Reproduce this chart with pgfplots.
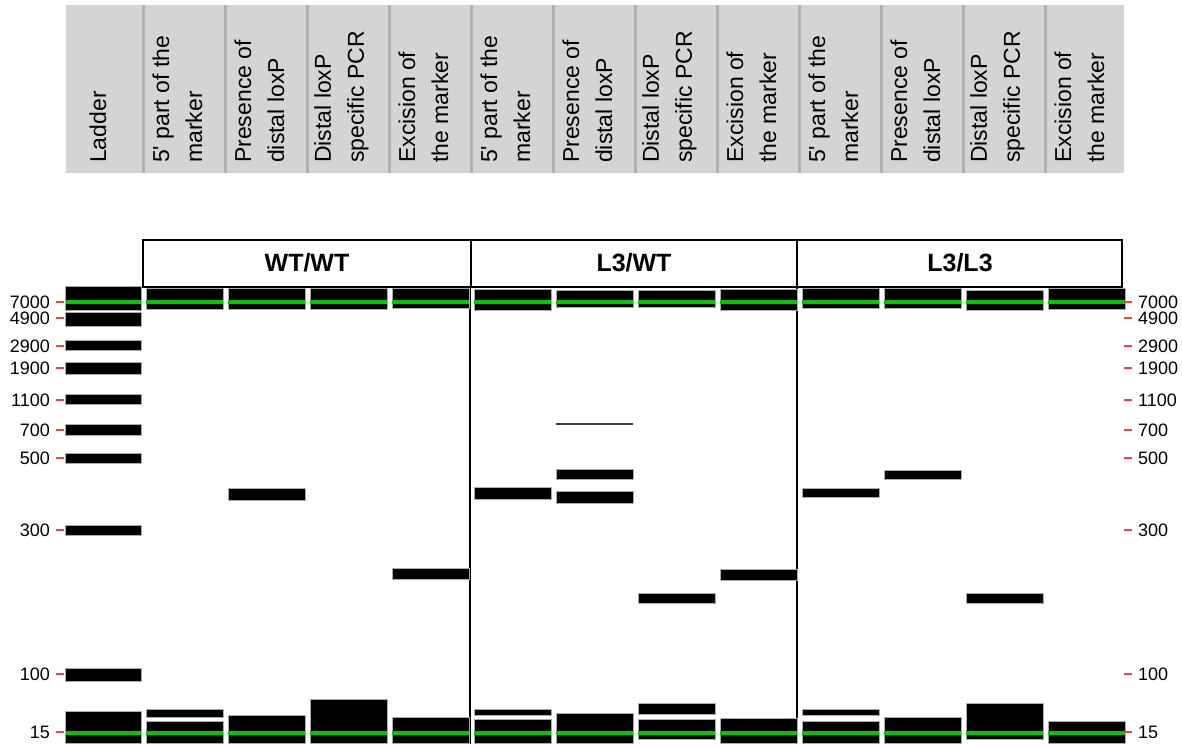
\documentclass[border=0pt]{standalone}
\usepackage{fontspec}
\setmainfont{Liberation Sans}
\usepackage{pgfplots}
\pgfplotsset{compat=1.18}

\definecolor{hdr}{HTML}{D4D4D4}
\definecolor{hdrsep}{HTML}{B0B0B0}
\definecolor{gelgreen}{HTML}{00C800}
\definecolor{tickred}{HTML}{FF3C3C}

% one band: lane (0 = ladder), top and bottom in pixel rows
\newcommand{\band}[3]{%
  \pgfmathsetmacro{\xl}{#1==0 ? 66 : 64+82*#1}%
  \pgfmathsetmacro{\xr}{64+82*#1+77}%
  \edef\doband{\noexpand\addplot[bandst] coordinates {(\xl,-#2) (\xr,-#2) (\xr,-#3) (\xl,-#3)} -- cycle;}%
  \doband}
% green reference line across a lane
\newcommand{\gline}[2]{%
  \pgfmathsetmacro{\xl}{#1==0 ? 66 : 64+82*#1}%
  \pgfmathsetmacro{\xr}{64+82*#1+77}%
  \edef\dogl{\noexpand\addplot[gelgreen, line width=3.5pt] coordinates {(\xl,-#2) (\xr,-#2)};}%
  \dogl}

\pgfplotsset{
  bandst/.style={fill=black, draw=gray!65, line width=1pt},
  gelaxis/.style={
    x=1pt, y=1pt,
    xmin=64, xmax=1124, ymin=-744, ymax=-286,
    axis line style={draw=none},
    xtick=\empty,
    ytick={-302,-318,-346,-368,-400,-430,-458,-530,-674,-732},
    yticklabels={7000,4900,2900,1900,1100,700,500,300,100,15},
    tick align=outside,
    major tick length=8pt,
    tick style={tickred, line width=2pt},
    yticklabel style={font=\fontsize{18}{18}\selectfont, inner sep=0pt},
    /pgf/number format/assume math mode=true,
    clip=false,
  },
}
\tikzset{
  hdrtxt/.style={rotate=90, anchor=west, align=left, inner sep=0pt,
    font=\fontsize{23}{33}\selectfont},
  grptxt/.style={font=\bfseries\fontsize{25}{25}\selectfont},
}

\begin{document}
\begin{tikzpicture}
\begin{axis}[gelaxis, ytick pos=left, yticklabel pos=left,
    yticklabel style={xshift=-6pt}]
  % page frame
  \path (0,0) rectangle (1182,-744);

  % column header
  \fill[hdr] (66,-5) rectangle (1124,-173);
  \draw[hdrsep, line width=3pt]
    (143.5,-5) -- (143.5,-173) (225.5,-5) -- (225.5,-173)
    (307.5,-5) -- (307.5,-173) (389.5,-5) -- (389.5,-173)
    (471.5,-5) -- (471.5,-173) (553.5,-5) -- (553.5,-173)
    (635.5,-5) -- (635.5,-173) (717.5,-5) -- (717.5,-173)
    (799.5,-5) -- (799.5,-173) (881.5,-5) -- (881.5,-173)
    (963.5,-5) -- (963.5,-173) (1045.5,-5) -- (1045.5,-173);
  \node[hdrtxt] at (98,-163) {Ladder};
  \node[hdrtxt] at (177.5,-163) {5\textquotesingle{} part of the\\marker};
  \node[hdrtxt] at (259.5,-163) {Presence of\\distal loxP};
  \node[hdrtxt] at (341.5,-163) {Distal loxP\\specific PCR};
  \node[hdrtxt] at (423.5,-163) {Excision of\\the marker};
  \node[hdrtxt] at (505.5,-163) {5\textquotesingle{} part of the\\marker};
  \node[hdrtxt] at (587.5,-163) {Presence of\\distal loxP};
  \node[hdrtxt] at (669.5,-163) {Distal loxP\\specific PCR};
  \node[hdrtxt] at (751.5,-163) {Excision of\\the marker};
  \node[hdrtxt] at (833.5,-163) {5\textquotesingle{} part of the\\marker};
  \node[hdrtxt] at (915.5,-163) {Presence of\\distal loxP};
  \node[hdrtxt] at (997.5,-163) {Distal loxP\\specific PCR};
  \node[hdrtxt] at (1079.5,-163) {Excision of\\the marker};

  % genotype groups
  \draw[line width=2pt] (143,-240) rectangle (471,-287);
  \draw[line width=2pt] (471,-240) rectangle (797,-287);
  \draw[line width=2pt] (797,-240) rectangle (1122,-287);
  \node[grptxt] at (307,-263) {WT/WT};
  \node[grptxt] at (634,-263) {L3/WT};
  \node[grptxt] at (960,-263) {L3/L3};
  \draw[line width=2pt] (470,-287) -- (470,-744);
  \draw[line width=2pt] (797,-287) -- (797,-744);

  % ladder
  \band{0}{287}{311} \band{0}{313}{327} \band{0}{341}{351}
  \band{0}{363}{375} \band{0}{395}{405} \band{0}{425}{435}
  \band{0}{453}{463} \band{0}{525}{535} \band{0}{668}{681}
  \band{0}{711}{743}
  % WT/WT
  \band{1}{289}{310} \band{1}{709}{717} \band{1}{721}{743}
  \band{2}{289}{310} \band{2}{488}{500} \band{2}{715}{743}
  \band{3}{289}{310} \band{3}{699}{743}
  \band{4}{289}{309} \band{4}{568}{579} \band{4}{717}{743}
  % L3/WT
  \band{5}{290}{311} \band{5}{487}{499} \band{5}{709}{715} \band{5}{719}{743}
  \band{6}{291}{308} \band{6}{469}{479} \band{6}{491}{503} \band{6}{713}{743}
  \addplot[black!75, line width=1.5pt] coordinates {(556,-424) (633,-424)};
  \band{7}{291}{308} \band{7}{593}{603} \band{7}{703}{714} \band{7}{719}{739}
  \band{8}{290}{311} \band{8}{569}{580} \band{8}{718}{743}
  % L3/L3
  \band{9}{289}{309} \band{9}{488}{497} \band{9}{709}{715} \band{9}{721}{743}
  \band{10}{289}{309} \band{10}{470}{479} \band{10}{717}{743}
  \band{11}{291}{311} \band{11}{593}{603} \band{11}{703}{739}
  \band{12}{289}{310} \band{12}{721}{743}

  % reference lines
  \gline{0}{302} \gline{1}{302} \gline{2}{302} \gline{3}{302} \gline{4}{302}
  \gline{5}{302} \gline{6}{302} \gline{7}{302} \gline{8}{302} \gline{9}{302}
  \gline{10}{302} \gline{11}{302} \gline{12}{302}
  \gline{0}{733} \gline{1}{733} \gline{2}{733} \gline{3}{733} \gline{4}{733}
  \gline{5}{733} \gline{6}{733} \gline{7}{733} \gline{8}{733} \gline{9}{733}
  \gline{10}{733} \gline{11}{733} \gline{12}{733}
\end{axis}

% right-hand size scale
\begin{axis}[gelaxis, ytick pos=right, yticklabel pos=right,
    yticklabel style={xshift=6pt}]
\end{axis}
\end{tikzpicture}
\end{document}
